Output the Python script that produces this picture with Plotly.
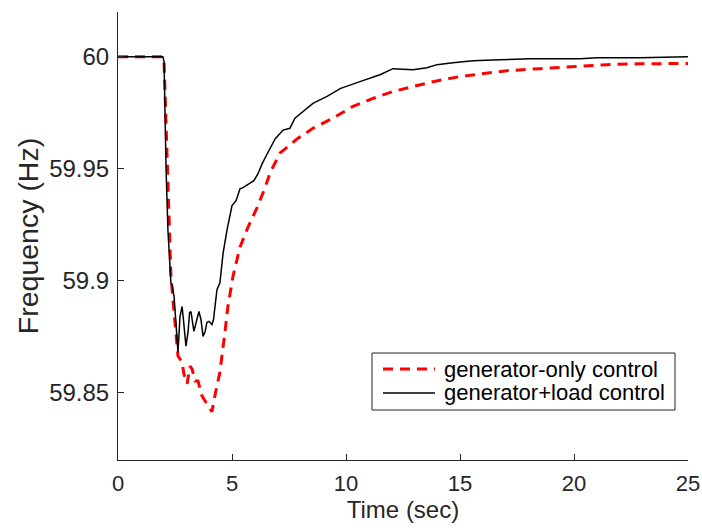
import plotly.graph_objects as go

# generator-only control (red dashed)
t_gen = [0.0, 1.97, 2.02, 2.06, 2.15, 2.24, 2.32, 2.41, 2.54, 2.63, 2.81, 2.89, 3.03, 3.16, 3.25,
         3.38, 3.51, 3.68, 3.95, 4.12, 4.25, 4.47, 4.69, 4.82, 5.04, 5.35, 5.70, 6.10, 6.45, 6.67,
         7.11, 7.85, 8.55, 9.43, 10.31, 11.18, 12.06, 12.94, 13.82, 15.0, 15.57, 17.06, 18.51,
         19.96, 21.45, 22.89, 25.0]
f_gen = [60.0, 60.0, 59.9978, 59.9845, 59.9491, 59.9226, 59.9027, 59.8916, 59.8761, 59.8664,
         59.8637, 59.8584, 59.8540, 59.8619, 59.8606, 59.8553, 59.8553, 59.8487, 59.8442, 59.8416,
         59.8487, 59.8593, 59.8770, 59.8885, 59.9018, 59.9150, 59.9239, 59.9327, 59.9416, 59.9482,
         59.9571, 59.9633, 59.9681, 59.9726, 59.9779, 59.9814, 59.9845, 59.9867, 59.9889, 59.9912,
         59.9920, 59.9938, 59.9947, 59.9956, 59.9965, 59.9969, 59.9970]

# generator+load control (black solid)
t_load = [0.0, 1.97, 2.02, 2.06, 2.11, 2.19, 2.28, 2.32, 2.37, 2.46, 2.54, 2.63, 2.72, 2.81,
          2.87, 2.98, 3.07, 3.14, 3.20, 3.27, 3.33, 3.46, 3.55, 3.64, 3.73, 3.82, 3.90, 3.99,
          4.12, 4.19, 4.25, 4.34, 4.47, 4.61, 4.78, 5.00, 5.18, 5.35, 5.48, 5.66, 5.79, 5.96,
          6.14, 6.32, 6.54, 6.89, 7.24, 7.54, 7.76, 8.11, 8.55, 9.17, 9.74, 10.61, 11.49, 12.06,
          12.94, 13.55, 13.99, 14.69, 15.57, 16.75, 18.07, 19.25, 20.26, 21.01, 22.89, 25.0]
f_load = [60.0, 60.0, 59.9978, 59.9712, 59.9491, 59.9226, 59.9049, 59.8991, 59.8982, 59.8929,
          59.8814, 59.8681, 59.8841, 59.8885, 59.8827, 59.8708, 59.8770, 59.8858, 59.8863,
          59.8814, 59.8774, 59.8827, 59.8863, 59.8827, 59.8752, 59.8774, 59.8814, 59.8819,
          59.8805, 59.8827, 59.8885, 59.8960, 59.8991, 59.9124, 59.9226, 59.9336, 59.9358,
          59.9411, 59.9416, 59.9429, 59.9438, 59.9447, 59.9478, 59.9522, 59.9566, 59.9633,
          59.9673, 59.9681, 59.9726, 59.9757, 59.9792, 59.9823, 59.9858, 59.9889, 59.9920,
          59.9947, 59.9942, 59.9951, 59.9965, 59.9973, 59.9982, 59.9987, 59.9991, 59.9991,
          59.9991, 59.9996, 59.9996, 60.0]

series_names = ["generator-only control", "generator+load control"]
x_ticks = [0, 5, 10, 15, 20, 25]
y_ticks = [59.85, 59.9, 59.95, 60]
y_tick_labels = ["59.85", "59.9", "59.95", "60"]

AX = "#262626"
FONT = "Liberation Sans, Arial, Helvetica, sans-serif"
RED_DASH = "10px,7px"

fig = go.Figure()
fig.add_trace(go.Scatter(x=t_gen, y=f_gen, mode="lines", name=series_names[0],
                         line=dict(color="#ff0000", width=3, dash=RED_DASH)))
fig.add_trace(go.Scatter(x=t_load, y=f_load, mode="lines", name=series_names[1],
                         line=dict(color="#000000", width=1.5)))

# legend drawn as a boxed key (paper coordinates)
box = dict(x0=0.4456, x1=0.9772, y0=0.1116, y1=0.2388)
rows_y = [0.2031, 0.1496]
fig.add_shape(type="rect", xref="paper", yref="paper", **box,
              line=dict(color=AX, width=1), fillcolor="white", layer="above")
fig.add_shape(type="line", xref="paper", yref="paper", x0=0.4649, x1=0.5561,
              y0=rows_y[0], y1=rows_y[0], line=dict(color="#ff0000", width=3, dash=RED_DASH),
              layer="above")
fig.add_shape(type="line", xref="paper", yref="paper", x0=0.4649, x1=0.5561,
              y0=rows_y[1], y1=rows_y[1], line=dict(color="#000000", width=1.5),
              layer="above")
for name, yy in zip(series_names, rows_y):
    fig.add_annotation(text=name, xref="paper", yref="paper", x=0.5684, y=yy,
                       xanchor="left", yanchor="middle", showarrow=False,
                       font=dict(size=22, color="#000000", family=FONT))

fig.update_layout(
    width=702, height=531,
    margin=dict(l=118, r=14, t=12, b=71),
    paper_bgcolor="white", plot_bgcolor="white",
    font=dict(family=FONT, color=AX),
    showlegend=False,
    xaxis=dict(range=[0, 25], tickvals=x_ticks, ticks="inside", ticklen=6, tickcolor=AX,
               showline=True, linecolor=AX, linewidth=1, showgrid=False, zeroline=False,
               tickfont=dict(size=22, color=AX), automargin=False, ticklabelstandoff=4,
               ticklabeloverflow="allow",
               title=dict(text="Time (sec)", font=dict(size=24, color=AX), standoff=0)),
    yaxis=dict(range=[59.82, 60.02], tickvals=y_ticks, ticktext=y_tick_labels,
               ticks="inside", ticklen=6, tickcolor=AX, automargin=False,
               showline=True, linecolor=AX, linewidth=1, showgrid=False, zeroline=False,
               tickfont=dict(size=24, color=AX), ticklabelstandoff=3,
               title=dict(text="Frequency (Hz)", font=dict(size=28.5, color=AX), standoff=2)),
)

# remove the default 8px page margin so the figure fills the window exactly
fig.write_html("out.html",
               config={"displayModeBar": False},
               post_script="document.body.style.margin='0';"
                           "document.documentElement.style.overflow='hidden';")
